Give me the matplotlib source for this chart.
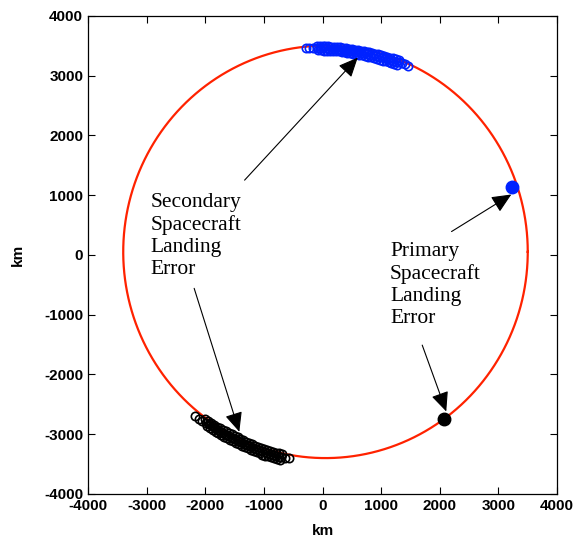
import numpy as np
import matplotlib
matplotlib.use("Agg")
import matplotlib.pyplot as plt

plt.rcParams["axes.unicode_minus"] = False

# circulo de referencia (km)
centro_x = 50
centro_y = 50
raio = 3450

# pontos de pouso - nave secundaria (topo, azul)
azul_x = [-290, -225, -160,
          -100, -50, 0, 50, 100, 150, 200, 250, 300, 350, 400, 450, 500, 550,
          600, 650, 700, 750, 800, 850, 900, 950, 1000, 1050, 1100, 1150, 1200,
          1250, 1300,
          -75, -25, 25, 75, 125, 175, 225, 275, 325, 375, 425, 475, 525, 575,
          625, 675, 725, 775, 825, 875, 925, 975, 1025, 1075, 1125, 1175, 1225,
          1275,
          -90, -40, 10, 60, 110, 160, 210, 260, 310, 360, 410, 460, 510, 560,
          610, 660, 710, 760, 810, 860, 910, 960, 1010, 1060, 1110, 1160, 1210,
          1260, 1310,
          1350, 1400, 1450]
azul_y = [3462, 3464, 3460,
          3492, 3491, 3490, 3489, 3487, 3484, 3480, 3475, 3470, 3464, 3457, 3450,
          3443, 3435, 3427, 3418, 3408, 3398, 3387, 3376, 3365, 3353, 3341, 3328,
          3315, 3301, 3287, 3272, 3257,
          3421, 3420, 3419, 3418, 3416, 3412, 3408, 3403, 3397, 3390, 3383, 3375,
          3366, 3357, 3347, 3336, 3325, 3314, 3302, 3290, 3277, 3264, 3250, 3236,
          3221, 3206, 3190, 3174,
          3457, 3456, 3455, 3454, 3451, 3448, 3444, 3439, 3434, 3428, 3421, 3414,
          3406, 3398, 3389, 3380, 3371, 3361, 3350, 3339, 3328, 3316, 3303, 3290,
          3277, 3263, 3249, 3234, 3219,
          3210, 3190, 3160]

# pontos de pouso - nave secundaria (baixo, preto)
preto_x = [-2180, -2110, -2050,
           -2000, -1950, -1900, -1850, -1800, -1750, -1700, -1650, -1600, -1550,
           -1500, -1450, -1400, -1350, -1300, -1250, -1200, -1150, -1100, -1050,
           -1000, -950, -900, -850, -800, -750, -700,
           -1975, -1925, -1875, -1825, -1775, -1725, -1675, -1625, -1575, -1525,
           -1475, -1425, -1375, -1325, -1275, -1225, -1175, -1125, -1075, -1025,
           -975, -925, -875, -825, -775, -725,
           -1990, -1940, -1890, -1840, -1790, -1740, -1690, -1640, -1590, -1540,
           -1490, -1440, -1390, -1340, -1290, -1240, -1190, -1140, -1090, -1040,
           -990, -940, -890, -840, -790, -740, -710,
           -640, -580]
preto_y = [-2690, -2745, -2785,
           -2750, -2780, -2815, -2845, -2875, -2903, -2930, -2955, -2980, -3005,
           -3030, -3055, -3080, -3103, -3125, -3148, -3170, -3190, -3210, -3230,
           -3250, -3266, -3282, -3296, -3310, -3323, -3335,
           -2865, -2897, -2930, -2960, -2988, -3017, -3043, -3068, -3093, -3118,
           -3143, -3168, -3192, -3214, -3237, -3258, -3280, -3300, -3320, -3340,
           -3357, -3373, -3389, -3403, -3416, -3428,
           -2806, -2838, -2871, -2901, -2930, -2958, -2985, -3010, -3035, -3060,
           -3085, -3110, -3134, -3157, -3179, -3201, -3223, -3243, -3264, -3284,
           -3303, -3319, -3335, -3349, -3363, -3374, -3380,
           -3400, -3405]

# pontos de pouso - nave primaria
prim_azul = (3230, 1130)
prim_preto = (2070, -2740)

fig = plt.figure(figsize=(5.87, 5.44), dpi=100)
ax = fig.add_axes([0.150, 0.092, 0.799, 0.879])

theta = np.linspace(0, 2 * np.pi, 400)
ax.plot(centro_x + raio * np.cos(theta), centro_y + raio * np.sin(theta),
        color="#ff2200", lw=1.6, zorder=1)

ax.plot(azul_x, azul_y, "o", mfc="none", mec="#0022ff", ms=6, mew=1.2, zorder=2)
ax.plot(preto_x, preto_y, "o", mfc="none", mec="black", ms=6, mew=1.2, zorder=2)
ax.plot(*prim_azul, "o", color="#0022ff", ms=9, zorder=3)
ax.plot(*prim_preto, "o", color="black", ms=9, zorder=3)

seta = dict(arrowstyle="-|>,head_length=1.0,head_width=0.45", color="black",
            lw=0.8, mutation_scale=12, shrinkA=0, shrinkB=0)
fonte = dict(family="Liberation Serif", fontsize=15.5, linespacing=1.22,
             va="top", ha="left")

ax.text(-2930, 1040, "Secondary\nSpacecraft\nLanding\nError", **fonte)
ax.annotate("", xy=(600, 3300), xytext=(-1330, 1250), arrowprops=seta)
ax.annotate("", xy=(-1420, -2960), xytext=(-2190, -560), arrowprops=seta)

ax.text(1150, 220, "Primary\nSpacecraft\nLanding\nError", **fonte)
ax.annotate("", xy=(3220, 1010), xytext=(2200, 390), arrowprops=seta)
ax.annotate("", xy=(2110, -2620), xytext=(1700, -1510), arrowprops=seta)

ax.set_xlim(-4000, 4000)
ax.set_ylim(-4000, 4000)
ax.set_xticks(range(-4000, 4001, 1000))
ax.set_yticks(range(-4000, 4001, 1000))
ax.tick_params(direction="in", top=True, right=True, length=5, width=0.8,
               labelsize=11)
for lab in ax.get_xticklabels() + ax.get_yticklabels():
    lab.set_family("Liberation Sans")
    lab.set_fontweight("bold")
ax.set_xlabel("km", family="Liberation Sans", fontweight="bold", fontsize=11,
              labelpad=8)
ax.set_ylabel("km", family="Liberation Sans", fontweight="bold", fontsize=11,
              labelpad=14)
for s in ax.spines.values():
    s.set_linewidth(0.9)

fig.savefig("out.png", dpi=100)
